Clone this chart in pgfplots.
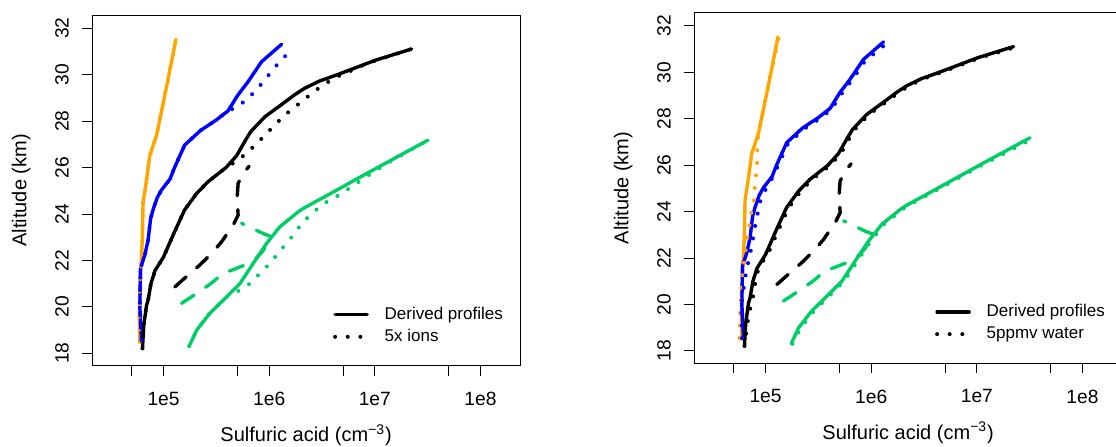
\documentclass[border=0pt]{standalone}
\usepackage{fontspec}
\setmainfont{Liberation Sans}
\usepackage{pgfplots}
\usepackage{pgfplotstable}
\pgfplotsset{compat=1.18}

\definecolor{rorange}{RGB}{255,165,0}
\definecolor{rblue}{RGB}{0,0,255}
\definecolor{rgreen}{RGB}{0,205,102}

% derived profiles (solid), shared by both panels
\pgfplotstableread{
x y
5.97e4 18.49
5.90e4 19.5
5.95e4 20.5
6.10e4 21.6
6.30e4 22.9
6.40e4 24.5
6.90e4 25.45
7.40e4 26.5
8.60e4 27.4
1.07e5 29.5
1.31e5 31.52
}\orangeD
\pgfplotstableread{
x y
6.19e4 18.55
5.97e4 20.0
6.05e4 21.66
6.65e4 22.23
7.14e4 22.87
7.55e4 23.8
7.94e4 24.17
8.71e4 24.7
9.55e4 25.03
1.15e5 25.5
1.28e5 26.03
1.585e5 26.97
2.24e5 27.6
3.16e5 28.05
4.09e5 28.45
5.01e5 29.1
6.31e5 29.7
8.47e5 30.56
1.31e6 31.31
}\blueD
\pgfplotstableread{
x y
6.32e4 18.21
6.5e4 19.2
6.9e4 20.06
7.14e4 20.29
7.6e4 21.0
8.3e4 21.56
1.0e5 22.15
1.25e5 23.16
1.58e5 24.17
2.06e5 24.89
2.65e5 25.4
3.9e5 26.0
4.9e5 26.5
6.0e5 27.2
6.67e5 27.54
9.1e5 28.19
1.35e6 28.76
1.72e6 29.12
2.15e6 29.41
3.0e6 29.73
4.34e6 29.99
1.02e7 30.63
2.23e7 31.11
}\blackD
\pgfplotstableread{
x y
1.75e5 18.31
2.06e5 19.0
2.74e5 19.72
3.95e5 20.43
5.28e5 21.0
7.05e5 21.87
9.44e5 22.73
1.26e6 23.45
1.88e6 24.09
2.10e6 24.24
3.76e6 24.87
1.02e7 25.96
3.18e7 27.18
}\greenD
% dashed profiles
\pgfplotstableread{
x y
1.28e5 20.86
1.71e5 21.37
2.2e5 21.8
2.85e5 22.3
3.54e5 22.8
4.56e5 23.52
5.08e5 23.95
4.98e5 24.74
5.08e5 25.32
5.68e5 25.75
6.46e5 26.06
}\blackDash
\pgfplotstableread{
x y
1.48e5 20.15
2.06e5 20.58
2.8e5 21.0
3.66e5 21.44
4.9e5 21.66
7.05e5 21.94
8.7e5 22.4
1.05e6 23.02
8.77e5 23.16
5.48e5 23.6
}\greenDash
% 5x ions (left, dotted)
\pgfplotstableread{
x y
6.19e4 18.55
5.97e4 20.0
6.05e4 21.66
6.65e4 22.23
7.14e4 22.87
7.55e4 23.8
7.94e4 24.17
8.71e4 24.7
9.55e4 25.03
1.15e5 25.5
1.28e5 26.03
1.585e5 26.97
2.24e5 27.6
3.16e5 28.05
4.09e5 28.45
5.01e5 28.62
6.31e5 28.98
7.69e5 29.38
9.16e5 29.8
1.09e6 30.23
1.31e6 30.66
1.64e6 31.06
}\blueI
\pgfplotstableread{
x y
6.32e4 18.21
6.5e4 19.2
6.9e4 20.06
7.14e4 20.29
7.6e4 21.0
8.3e4 21.56
1.0e5 22.15
1.25e5 23.16
1.58e5 24.17
2.06e5 24.89
2.65e5 25.4
3.9e5 26.0
5.08e5 26.32
6.31e5 26.68
7.76e5 27.07
9.46e5 27.47
1.15e6 27.87
1.40e6 28.26
1.73e6 28.59
2.15e6 28.94
2.72e6 29.31
3.44e6 29.63
4.34e6 29.91
5.7e6 30.13
7.2e6 30.35
9.46e6 30.56
2.23e7 31.11
}\blackI
\pgfplotstableread{
x y
1.75e5 18.31
2.06e5 19.0
2.74e5 19.72
3.95e5 20.43
5.28e5 20.72
6.56e5 21.0
8.17e5 21.44
9.8e5 21.8
1.175e6 22.23
1.41e6 22.66
1.69e6 23.09
1.98e6 23.52
2.43e6 23.95
3.02e6 24.31
3.70e6 24.6
4.88e6 24.88
6.17e6 25.21
7.76e6 25.52
1.02e7 25.88
1.29e7 26.17
1.57e7 26.39
3.18e7 27.18
}\greenI
% 5ppmv water (right, dotted)
\pgfplotstableread{
x y
5.68e4 18.55
5.75e4 19.6
5.90e4 20.7
6.40e4 22.2
7.30e4 23.9
7.75e4 24.45
7.90e4 25.0
8.15e4 25.6
8.35e4 26.2
8.35e4 26.75
8.60e4 27.4
1.07e5 29.5
1.33e5 31.45
}\orangeW
\pgfplotstableread{
x y
6.00e4 18.55
5.90e4 20.0
6.50e4 21.3
6.90e4 21.87
7.40e4 22.5
7.90e4 23.3
8.50e4 24.0
9.00e4 24.52
1.02e5 25.02
1.18e5 25.5
1.32e5 26.0
1.62e5 26.9
2.30e5 27.55
3.25e5 28.0
4.20e5 28.4
5.20e5 29.05
6.55e5 29.65
8.80e5 30.5
1.45e6 31.3
}\blueW
\pgfplotstableread{
x y
6.32e4 18.21
6.8e4 19.3
7.2e4 19.87
7.7e4 20.44
8.0e4 20.94
8.6e4 21.6
1.05e5 22.15
1.31e5 23.16
1.66e5 24.17
2.16e5 24.89
2.78e5 25.4
4.1e5 26.0
5.15e5 26.5
6.3e5 27.2
7.0e5 27.54
9.55e5 28.19
1.42e6 28.76
1.81e6 29.12
2.26e6 29.41
3.15e6 29.73
4.56e6 29.99
1.07e7 30.63
2.3e7 31.08
}\blackW
\pgfplotstableread{
x y
1.80e5 18.31
2.16e5 19.0
2.88e5 19.72
4.15e5 20.43
5.54e5 21.0
7.40e5 21.87
9.90e5 22.73
1.32e6 23.45
1.97e6 24.09
2.20e6 24.24
3.95e6 24.87
1.07e7 25.96
3.40e7 27.15
}\greenW

\tikzset{
  solidp/.style={line width=1.7pt, line cap=round, line join=round},
  dotp/.style={line width=2pt, line cap=round, dash pattern=on 0pt off 6.3pt},
  dashp/.style={line width=1.7pt, line cap=round, line join=round, dash pattern=on 7.5pt off 7pt},
}
% settings shared by both panels
\pgfplotsset{
  scale only axis, width=213.85pt, height=175.35pt,
  xmin=2.118e4, xmax=2.366e8, ymin=17.466, ymax=32.573,
  xtick={5e4,1e5,5e5,1e6,5e6,1e7,5e7,1e8},
  xticklabels={,1e5,,1e6,,1e7,,1e8},
  ytick={18,20,...,32},
  tick align=outside, xtick pos=left, ytick pos=left,
  major tick length=5pt,
  axis line style={line width=0.5pt},
  every tick/.style={black, line width=0.5pt},
  tick label style={font=\fontsize{9.6}{11}\selectfont, inner sep=0pt},
  yticklabel style={rotate=90, anchor=south},
  xticklabel shift=8pt, yticklabel shift=6.6pt,
  label style={font=\fontsize{10}{12}\selectfont},
  xlabel style={at={([yshift=-34.7pt]axis description cs:0.5,0)}, anchor=center},
  ylabel style={at={([xshift=-35.5pt]axis description cs:0,0.5)}, anchor=center},
  legend cell align=left,
  legend style={draw=none, fill=none, font=\fontsize{8.5}{10}\selectfont,
    at={(axis description cs:0.5621,0.169)}, anchor=north west,
    inner sep=0pt, column sep=7.8pt, row sep=3.5pt,
    nodes={inner sep=0pt}},
  legend image code/.code={\draw[#1] (0pt,0pt) -- (16pt,0pt);},
}

\begin{document}
\begin{tikzpicture}
  \useasboundingbox (0,0) rectangle (558pt,223pt);
  \clip (0,0) rectangle (558pt,223pt);

  % left panel: 5x ions
  \begin{axis}[xmode=log, xminorticks=false,
      /pgf/number format/assume math mode=true,
      at={(46.15pt,40.15pt)}, anchor=south west,
      xlabel={Sulfuric acid (cm\textsuperscript{−3})},
      ylabel={Altitude (km)}]
    \addlegendimage{black, solidp}
    \addlegendimage{black, dotp}
    \addplot[forget plot, black, dashp] table {\blackDash};
    \addplot[forget plot, rgreen, dashp] table {\greenDash};
    \addplot[forget plot, rorange, solidp] table {\orangeD};
    \addplot[forget plot, rblue, solidp] table {\blueD};
    \addplot[forget plot, black, solidp] table {\blackD};
    \addplot[forget plot, rgreen, solidp] table {\greenD};
    \addplot[forget plot, rorange, dotp] table {\orangeD};
    \addplot[forget plot, rblue, dotp] table {\blueI};
    \addplot[forget plot, black, dotp] table {\blackI};
    \addplot[forget plot, rgreen, dotp] table {\greenI};
    \legend{Derived profiles, 5x ions}
  \end{axis}

  % right panel: 5ppmv water
  \begin{axis}[xmode=log, xminorticks=false,
      /pgf/number format/assume math mode=true,
      at={(347.15pt,41.35pt)}, anchor=south west,
      xlabel={Sulfuric acid (cm\textsuperscript{−3})},
      ylabel={Altitude (km)}]
    \addlegendimage{black, solidp}
    \addlegendimage{black, dotp}
    \addplot[forget plot, black, dashp] table {\blackDash};
    \addplot[forget plot, rgreen, dashp] table {\greenDash};
    \addplot[forget plot, rorange, solidp] table {\orangeD};
    \addplot[forget plot, rblue, solidp] table {\blueD};
    \addplot[forget plot, black, solidp] table {\blackD};
    \addplot[forget plot, rgreen, solidp] table {\greenD};
    \addplot[forget plot, rorange, dotp] table {\orangeW};
    \addplot[forget plot, rblue, dotp] table {\blueW};
    \addplot[forget plot, black, dotp] table {\blackW};
    \addplot[forget plot, rgreen, dotp] table {\greenW};
    \legend{Derived profiles, 5ppmv water}
  \end{axis}
\end{tikzpicture}
\end{document}
